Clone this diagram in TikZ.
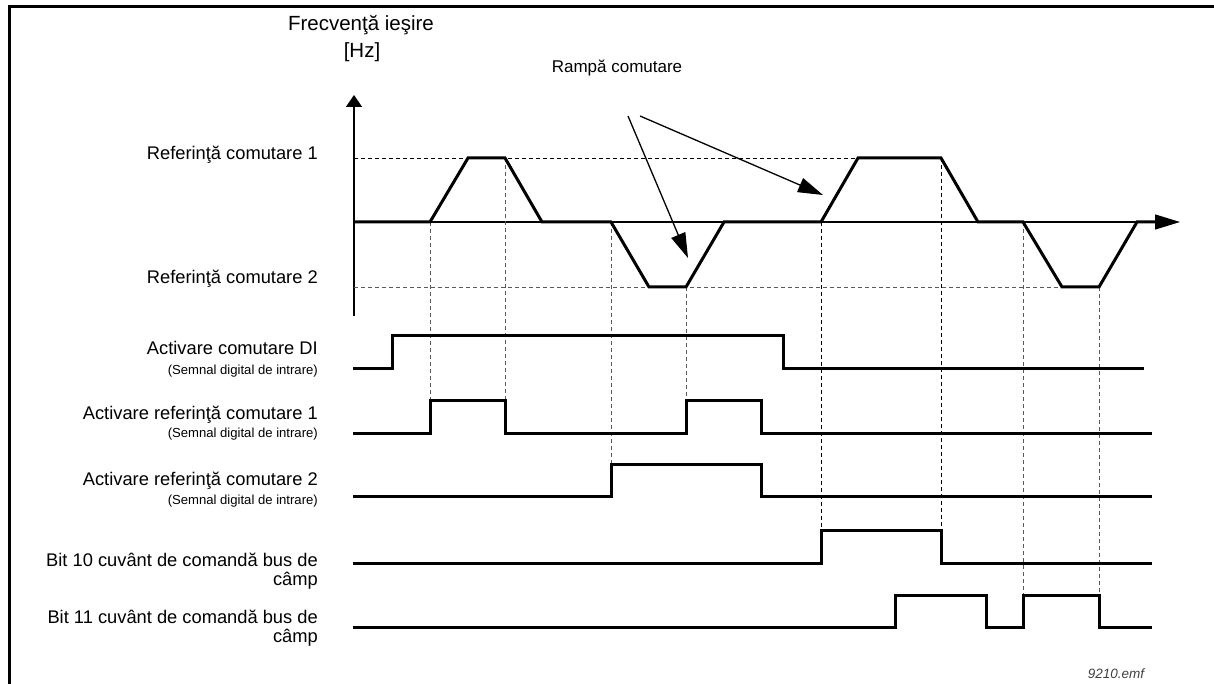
\documentclass[tikz,border=0pt]{standalone}
\usepackage{fontspec}
\setmainfont{Liberation Sans}
\usetikzlibrary{arrows.meta}
\begin{document}
\begin{tikzpicture}[x=1pt,y=-1pt,
 sig/.style={line width=3pt,line join=miter},
 axisline/.style={line width=1.4pt},
 dsh/.style={line width=0.9pt,dash pattern=on 4pt off 3pt},
 dshg/.style={line width=0.9pt,dash pattern=on 4pt off 3pt,black!65},
 lbl/.style={anchor=mid east,inner sep=0pt,font=\fontsize{18.3}{20}\selectfont},
 sublbl/.style={anchor=mid east,inner sep=0pt,font=\fontsize{13.1}{14}\selectfont},
 twolbl/.style={anchor=north east,inner sep=0pt,align=right,font=\fontsize{18.3}{19}\selectfont},
]
\useasboundingbox (0,0) rectangle (1214,684);
% frame
\draw[line width=3pt] (9,684) -- (9,7) -- (1214,7);

% title
\node[inner sep=0pt,font=\fontsize{20.5}{22}\selectfont] (title) at (361,25) {Frecvenţă ieşire};
\node[inner sep=0pt,font=\fontsize{20.5}{22}\selectfont] (hz) at (362,52) {[Hz]};

% axes
\coordinate (yb) at (354,316);
\coordinate (yt) at (354,95);
\draw[axisline,-{Triangle[length=12pt,width=16pt]}] (yb) -- (yt);
\coordinate (x0) at (354,222);
\coordinate (xt) at (1180,222);
\draw[axisline,-{Triangle[length=25pt,width=15pt]}] (x0) -- (xt);

% reference dashed lines
\draw[dsh] (354,158) -- (858,158);
\draw[dshg] (354,287) -- (1062,287);

% vertical dashed lines
\draw[dshg] (430,222) -- (430,400);
\draw[dshg] (505,158) -- (505,400);
\draw[dshg] (611,222) -- (611,464);
\draw[dshg] (686,287) -- (686,400);
\draw[dsh] (821,222) -- (821,530);
\draw[dsh] (941,158) -- (941,530);
\draw[dshg] (1023,222) -- (1023,595);
\draw[dshg] (1099,287) -- (1099,595);

% frequency waveform
\draw[sig] (354,222) -- (430,222) -- (468,158) -- (505,158) -- (542,222)
  -- (611,222) -- (649,287) -- (686,287) -- (724,222) -- (821,222)
  -- (858,158) -- (941,158) -- (978,222) -- (1023,222) -- (1062,287)
  -- (1099,287) -- (1137,222) -- (1158,222);

% labels for references
\node[lbl] (r1) at (318,157) {Referinţă comutare 1};
\node[lbl] (r2) at (318,281) {Referinţă comutare 2};

% Rampa comutare
\node[inner sep=0pt,font=\fontsize{17}{19}\selectfont] (ramp) at (617,68) {Rampă comutare};
\coordinate (ra1) at (628,116);
\coordinate (ra1t) at (688,258);
\coordinate (ra2) at (640,116);
\coordinate (ra2t) at (823,195);
\draw[line width=1.3pt,-{Triangle[length=25pt,width=15pt]}] (ra1) -- (ra1t);
\draw[line width=1.3pt,-{Triangle[length=25pt,width=15pt]}] (ra2) -- (ra2t);

% digital signals
\draw[sig] (353,368) -- (392,368) -- (392,335) -- (783,335) -- (783,368) -- (1144,368);
\draw[sig] (353,433) -- (430,433) -- (430,400) -- (505,400) -- (505,433) -- (686,433)
  -- (686,400) -- (761,400) -- (761,433) -- (1152,433);
\draw[sig] (353,496) -- (611,496) -- (611,464) -- (761,464) -- (761,496) -- (1152,496);
\draw[sig] (353,563) -- (821,563) -- (821,530) -- (941,530) -- (941,563) -- (1152,563);
\draw[sig] (353,627) -- (895,627) -- (895,595) -- (986,595) -- (986,627) -- (1023,627)
  -- (1023,595) -- (1099,595) -- (1099,627) -- (1152,627);

% signal labels
\node[lbl] (a1) at (318,352) {Activare comutare DI};
\node[sublbl] (a1s) at (318,372) {(Semnal digital de intrare)};
\node[lbl] (a2) at (318,417) {Activare referinţă comutare 1};
\node[sublbl] (a2s) at (318,435) {(Semnal digital de intrare)};
\node[lbl] (a3) at (318,483) {Activare referinţă comutare 2};
\node[sublbl] (a3s) at (318,502) {(Semnal digital de intrare)};
\node[twolbl] (b10) at (318,553) {Bit 10 cuvânt de comandă bus de\\câmp};
\node[twolbl] (b11) at (318,610) {Bit 11 cuvânt de comandă bus de\\câmp};

% file name
\node[inner sep=0pt,text=black!75,font=\fontsize{13.5}{15}\selectfont\itshape] (fn) at (1116,674) {9210.emf};
\end{tikzpicture}
\end{document}
